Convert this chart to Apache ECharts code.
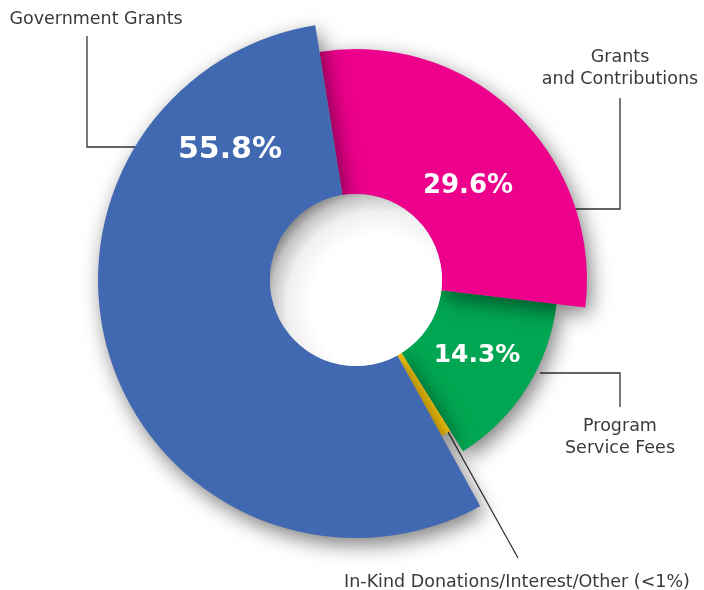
<!DOCTYPE html>
<html>
<head>
<meta charset="utf-8">
<script src="https://cdn.jsdelivr.net/npm/echarts@6/dist/echarts.min.js"></script>
<style>html,body{margin:0;padding:0;background:#fff}#c{width:704px;height:590px}</style>
</head>
<body>
<div id="c"></div>
<script>
// ---- data ----
const categories = ['Grants and Contributions', 'Program Service Fees', 'In-Kind Donations/Interest/Other', 'Government Grants'];
const values = [29.6, 14.3, 0.9, 55.8];
const outsideLabels = ['Grants\nand Contributions', 'Program\nService Fees', 'In-Kind Donations/Interest/Other (<1%)', 'Government Grants'];

// ---- styles ----
const colors = ['#EC008C', '#00A651', '#F3C20C', '#4169B1'];
const outerR = [231, 202, 178, 258];
const innerR = 86;
const center = [356, 280];
const startAngle = 99.1;
const pctFont = [26, 25, 0, 30];
const pctPos = [[468, 186], [477, 355], null, [230, 150]];
const drawOrder = [1, 2, 0, 3];

const chart = echarts.init(document.getElementById('c'), null, {renderer: 'canvas'});

function sliceSeries(i) {
  return {
    type: 'pie',
    center: center,
    radius: [innerR, outerR[i]],
    startAngle: startAngle,
    clockwise: true,
    silent: true,
    animation: false,
    avoidLabelOverlap: false,
    minAngle: 0,
    labelLine: {show: false},
    data: values.map((v, j) => ({
      value: v,
      name: categories[j],
      itemStyle: j === i ? {
        color: colors[j],
        shadowBlur: 20,
        shadowColor: 'rgba(0,0,0,0.5)',
        shadowOffsetX: 4,
        shadowOffsetY: 7
      } : {color: 'rgba(0,0,0,0)'},
      label: {
        show: j === i && pctPos[j] !== null,
        position: 'inside',
        formatter: p => p.value.toFixed(1) + '%',
        color: '#fff',
        fontWeight: 'bold',
        fontFamily: 'DejaVu Sans',
        fontSize: pctFont[j] || 12
      }
    })),
    labelLayout: function (params) {
      const p = pctPos[params.dataIndex];
      if (params.dataIndex === i && p) {
        return {x: p[0], y: p[1], align: 'center', verticalAlign: 'middle'};
      }
      return {};
    }
  };
}

const series = drawOrder.map(sliceSeries);
// center hole with inner shading
series.push({
  type: 'pie',
  center: center,
  radius: [0, innerR],
  silent: true,
  animation: false,
  label: {show: false},
  labelLine: {show: false},
  data: [{
    value: 1,
    itemStyle: {
      color: {
        type: 'radial', x: 0.64, y: 0.64, r: 0.72,
        colorStops: [
          {offset: 0, color: '#ffffff'},
          {offset: 0.55, color: '#ffffff'},
          {offset: 0.75, color: '#f0f0f0'},
          {offset: 0.88, color: '#c4c4c4'},
          {offset: 1, color: '#707070'}
        ]
      }
    }
  }]
});

const textStyle = {fill: '#3a3a3a', fontSize: 17.5, fontFamily: 'DejaVu Sans', lineHeight: 22, align: 'center', verticalAlign: 'middle'};
const lineStyle = {stroke: '#333', lineWidth: 1.3, fill: null};

const graphic = [
  {type: 'text', style: Object.assign({}, textStyle, {text: outsideLabels[0], x: 620, y: 68})},
  {type: 'text', style: Object.assign({}, textStyle, {text: outsideLabels[1], x: 620, y: 437})},
  {type: 'text', style: Object.assign({}, textStyle, {text: outsideLabels[2], x: 517, y: 582})},
  {type: 'text', style: Object.assign({}, textStyle, {text: outsideLabels[3], x: 96, y: 19})},
  {type: 'polyline', shape: {points: [[620, 98], [620, 209], [574, 209]]}, style: lineStyle},
  {type: 'polyline', shape: {points: [[540, 373], [620, 373], [620, 407]]}, style: lineStyle},
  {type: 'polyline', shape: {points: [[448, 432], [518, 558]]}, style: lineStyle},
  {type: 'polyline', shape: {points: [[87, 36], [87, 147], [137, 147]]}, style: lineStyle}
];

chart.setOption({
  backgroundColor: '#fff',
  animation: false,
  series: series,
  graphic: graphic
});
</script>
</body>
</html>
